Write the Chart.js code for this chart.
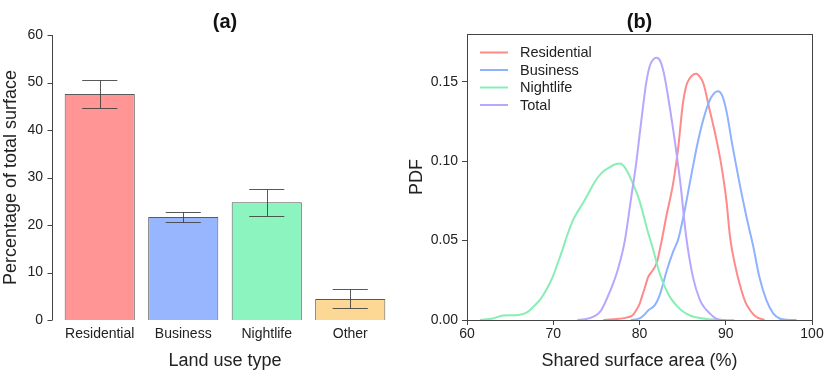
<!DOCTYPE html>
<html>
<head>
<meta charset="utf-8">
<script src="https://cdn.jsdelivr.net/npm/chart.js@4/dist/chart.umd.min.js"></script>
<style>
  body { margin: 0; background: #fff; }
  #left { position: absolute; left: 0; top: 0; }
  #right { position: absolute; left: 400px; top: 0; }
</style>
</head>
<body>
<canvas id="left" width="400" height="372"></canvas>
<canvas id="right" width="430" height="372"></canvas>
<script>
// (a) land use shares
const landUse = ["Residential", "Business", "Nightlife", "Other"];
const sharePct = [47.6, 21.7, 24.8, 4.4];
const errLow = [44.6, 20.6, 22.0, 2.5];
const errHigh = [50.6, 22.8, 27.6, 6.5];
const barColors = ["#ff9595", "#97b6fd", "#8cf4be", "#fdd894"];

// (b) density curves
const resX = [75.8, 77, 78.5, 79.2, 79.6, 80.0, 80.3, 80.6, 81.0, 81.5, 82.0, 82.5, 83.1, 83.9, 84.5, 85.0, 85.4, 85.8, 86.6, 87.0, 87.4, 88.1, 88.9, 89.5, 90.1, 90.5, 91.1, 91.8, 92.3, 92.8, 93.3, 93.7, 94.5];
const resY = [0, 0.0005, 0.0015, 0.003, 0.006, 0.010, 0.015, 0.020, 0.027, 0.031, 0.036, 0.048, 0.065, 0.086, 0.109, 0.135, 0.147, 0.152, 0.155, 0.153, 0.149, 0.133, 0.114, 0.097, 0.074, 0.052, 0.034, 0.019, 0.011, 0.0063, 0.003, 0.0015, 0];
const busX = [79.0, 80.0, 80.5, 81.0, 81.8, 82.3, 82.7, 83.1, 83.9, 84.5, 85.2, 86.0, 86.8, 87.6, 88.3, 89.1, 89.6, 90.1, 90.8, 91.6, 92.4, 93.2, 93.9, 94.7, 95.5, 96.3, 97.0, 98.2];
const busY = [0, 0.001, 0.003, 0.006, 0.0095, 0.015, 0.022, 0.030, 0.043, 0.051, 0.068, 0.091, 0.113, 0.130, 0.140, 0.144, 0.141, 0.131, 0.109, 0.086, 0.065, 0.046, 0.027, 0.0126, 0.0042, 0.0008, 0.0002, 0];
const nightX = [61.5, 63, 64.2, 65.5, 66.3, 67.0, 67.7, 68.5, 69.2, 70.0, 70.4, 71.0, 71.6, 72.3, 72.7, 73.45, 74.0, 74.6, 75.2, 75.8, 76.5, 77.2, 77.7, 78.3, 79.06, 80.0, 81.0, 81.5, 82.3, 83.0, 83.5, 84.3, 85.0, 86.0, 87.0, 88.0, 89.0, 91.0];
const nightY = [0, 0.001, 0.0028, 0.003, 0.0035, 0.005, 0.0084, 0.013, 0.019, 0.028, 0.034, 0.043, 0.053, 0.063, 0.067, 0.0736, 0.079, 0.085, 0.090, 0.0935, 0.096, 0.098, 0.0985, 0.096, 0.088, 0.075, 0.055, 0.046, 0.030, 0.020, 0.0147, 0.009, 0.0055, 0.0025, 0.0012, 0.0005, 0.0002, 0];
const totX = [72.8, 73.7, 74.6, 75.2, 75.6, 76.5, 77.5, 78.3, 79.06, 79.6, 80.0, 80.4, 80.8, 81.2, 81.6, 82.0, 82.4, 82.8, 83.3, 83.9, 84.7, 85.4, 86.2, 87.0, 87.5, 88.1, 88.7, 89.2, 90.0];
const totY = [0, 0.0005, 0.002, 0.004, 0.0065, 0.017, 0.032, 0.050, 0.078, 0.098, 0.116, 0.134, 0.150, 0.160, 0.164, 0.165, 0.163, 0.156, 0.141, 0.120, 0.088, 0.053, 0.027, 0.0126, 0.008, 0.0044, 0.0015, 0.0003, 0];

const seriesNames = ["Residential", "Business", "Nightlife", "Total"];
const lineColors = ["#ff8a8a", "#8eb2ff", "#88eeb6", "#b8a6ff"];

const FONT = "'Liberation Sans', Arial, Helvetica, sans-serif";
const TXT = "#222";
const AX = "#444";

Chart.defaults.font.family = FONT;
Chart.defaults.color = TXT;

const toPts = (xs, ys) => xs.map((x, i) => ({ x: x, y: ys[i] }));

// panel title centred over the plot area
const panelTitle = {
  id: "panelTitle",
  afterDraw(chart, args, opts) {
    const ctx = chart.ctx;
    const a = chart.chartArea;
    ctx.save();
    ctx.font = "bold 20px " + FONT;
    ctx.fillStyle = "#111";
    ctx.textAlign = "center";
    ctx.textBaseline = "middle";
    ctx.fillText(opts.text, (a.left + a.right) / 2, 22);
    ctx.restore();
  }
};

// error bars + left axis drawn offset from the first bar
const barExtras = {
  id: "barExtras",
  afterDatasetsDraw(chart) {
    const ctx = chart.ctx;
    const y = chart.scales.y;
    const meta = chart.getDatasetMeta(0);
    ctx.save();
    ctx.strokeStyle = "rgba(60,60,60,0.85)";
    ctx.lineWidth = 1;
    meta.data.forEach((bar, i) => {
      const half = bar.width / 4;
      const yl = Math.round(y.getPixelForValue(errLow[i])) + 0.5;
      const yh = Math.round(y.getPixelForValue(errHigh[i])) + 0.5;
      const xc = Math.round(bar.x) + 0.5;
      ctx.beginPath();
      ctx.moveTo(xc, yl); ctx.lineTo(xc, yh);
      ctx.moveTo(bar.x - half, yl); ctx.lineTo(bar.x + half, yl);
      ctx.moveTo(bar.x - half, yh); ctx.lineTo(bar.x + half, yh);
      ctx.stroke();
    });
    // y axis line
    const ax = chart.chartArea.left - 6 + 0.5;
    ctx.strokeStyle = AX;
    ctx.beginPath();
    ctx.moveTo(ax, y.getPixelForValue(0));
    ctx.lineTo(ax, y.getPixelForValue(60));
    y.ticks.forEach(t => {
      const py = Math.round(y.getPixelForValue(t.value)) + 0.5;
      ctx.moveTo(ax - 5, py); ctx.lineTo(ax, py);
    });
    ctx.stroke();
    ctx.restore();
  }
};

new Chart(document.getElementById("left"), {
  type: "bar",
  data: {
    labels: landUse,
    datasets: [{
      data: sharePct,
      backgroundColor: barColors,
      borderColor: "#5a5a5a",
      borderWidth: 1,
      barPercentage: 0.84,
      categoryPercentage: 1
    }]
  },
  options: {
    responsive: false,
    animation: false,
    devicePixelRatio: 1,
    layout: { padding: { left: 0, right: 8, top: 35, bottom: 0 } },
    plugins: {
      legend: { display: false },
      tooltip: { enabled: false },
      title: { display: false },
      panelTitle: { text: "(a)" }
    },
    scales: {
      x: {
        grid: { display: false, drawTicks: false },
        border: { display: false },
        ticks: { font: { size: 14 }, padding: 6, color: TXT },
        title: { display: true, text: "Land use type", font: { size: 18 }, padding: { top: 0, bottom: 0 }, color: TXT },
        afterFit: s => { s.height = 52; }
      },
      y: {
        min: 0, max: 60,
        grid: { display: false, drawTicks: false },
        border: { display: false },
        ticks: { stepSize: 10, font: { size: 14 }, padding: 15, color: TXT },
        title: { display: true, text: "Percentage of total surface", font: { size: 18 }, padding: { top: 0, bottom: 0 }, color: TXT },
        afterFit: s => { s.width = 58; }
      }
    }
  },
  plugins: [barExtras, panelTitle]
});

// frame + inside legend for (b)
const boxLegend = {
  id: "boxLegend",
  afterDraw(chart) {
    const ctx = chart.ctx;
    const a = chart.chartArea;
    ctx.save();
    ctx.strokeStyle = AX;
    ctx.lineWidth = 1;
    ctx.strokeRect(Math.round(a.left) + 0.5, Math.round(a.top) + 0.5,
      Math.round(a.right - a.left), Math.round(a.bottom - a.top));
    ctx.font = "14.5px " + FONT;
    ctx.textBaseline = "middle";
    ctx.fillStyle = TXT;
    const x0 = a.left + 13;
    chart.data.datasets.forEach((ds, i) => {
      const yy = a.top + 18.5 + i * 17.5;
      ctx.strokeStyle = ds.borderColor;
      ctx.lineWidth = 2;
      ctx.beginPath();
      ctx.moveTo(x0, yy); ctx.lineTo(x0 + 28, yy);
      ctx.stroke();
      ctx.fillText(ds.label, x0 + 40, yy + 0.5);
    });
    ctx.restore();
  }
};

const curves = [toPts(resX, resY), toPts(busX, busY), toPts(nightX, nightY), toPts(totX, totY)];

new Chart(document.getElementById("right"), {
  type: "line",
  data: {
    datasets: curves.map((pts, i) => ({
      label: seriesNames[i],
      data: pts,
      borderColor: lineColors[i],
      borderWidth: 2,
      pointRadius: 0,
      fill: false,
      cubicInterpolationMode: "monotone",
      order: 4 - i
    }))
  },
  options: {
    responsive: false,
    animation: false,
    devicePixelRatio: 1,
    layout: { padding: { left: 0, right: 18, top: 34, bottom: 0 } },
    plugins: {
      legend: { display: false },
      tooltip: { enabled: false },
      title: { display: false },
      panelTitle: { text: "(b)" }
    },
    scales: {
      x: {
        type: "linear", min: 60, max: 100,
        grid: { drawOnChartArea: false, tickLength: 5, color: AX },
        border: { color: AX },
        ticks: { stepSize: 10, font: { size: 14 }, padding: 1, color: TXT },
        title: { display: true, text: "Shared surface area (%)", font: { size: 18 }, padding: { top: 0, bottom: 0 }, color: TXT },
        afterFit: s => { s.height = 52; }
      },
      y: {
        min: 0, max: 0.18,
        grid: { drawOnChartArea: false, tickLength: 5, color: AX },
        border: { color: AX },
        ticks: { stepSize: 0.05, includeBounds: false, font: { size: 14 }, padding: 4, color: TXT,
          callback: v => v.toFixed(2) },
        title: { display: true, text: "PDF", font: { size: 18 }, padding: { top: 6, bottom: 0 }, color: TXT },
        afterFit: s => { s.width = 67; }
      }
    }
  },
  plugins: [boxLegend, panelTitle]
});
</script>
</body>
</html>
